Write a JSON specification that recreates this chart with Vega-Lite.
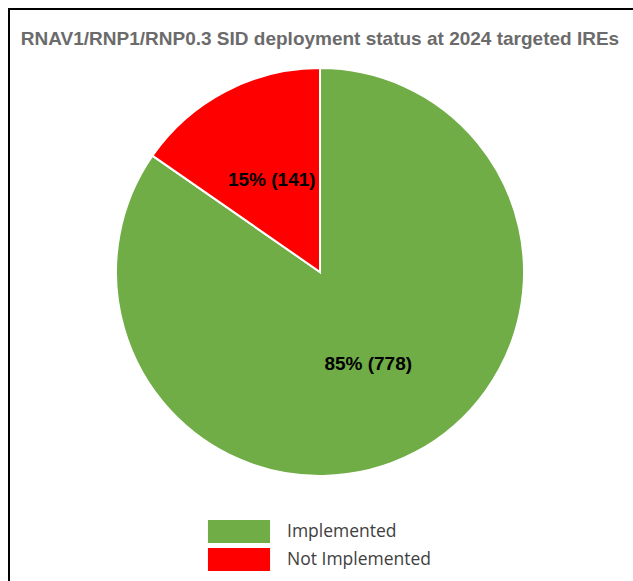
{
  "$schema": "https://vega.github.io/schema/vega-lite/v6.json",
  "autosize": {"type": "fit", "contains": "padding"},
  "width": 633,
  "height": 581,
  "padding": {"left": 9, "top": 9, "right": -8, "bottom": -8},
  "background": "white",
  "view": {"stroke": "black", "strokeWidth": 2},
  "title": {
    "text": "RNAV1/RNP1/RNP0.3 SID deployment status at 2024 targeted IREs",
    "font": "Liberation Sans",
    "fontSize": 19,
    "fontWeight": "bold",
    "color": "#6b6b6b",
    "anchor": "middle",
    "frame": "group",
    "baseline": "alphabetic",
    "offset": -55,
    "dx": -5
  },
  "data": {
    "values": [
      {"status": "Implemented", "count": 778, "label": "85% (778)"},
      {"status": "Not Implemented", "count": 141, "label": "15% (141)"}
    ]
  },
  "encoding": {
    "theta": {"field": "count", "type": "quantitative", "stack": true},
    "order": {"field": "count", "type": "quantitative", "sort": "descending"}
  },
  "layer": [
    {
      "mark": {"type": "arc", "outerRadius": 204, "stroke": "white", "strokeWidth": 2, "xOffset": -5, "yOffset": -27},
      "encoding": {
        "color": {
          "field": "status",
          "type": "nominal",
          "scale": {"domain": ["Implemented", "Not Implemented"], "range": ["#70AD47", "#FF0000"]},
          "legend": {
            "title": null,
            "orient": "none",
            "legendX": 218.5,
            "legendY": 511,
            "padding": 0,
            "symbolType": "M-2.7,-1H2.7V1H-2.7Z",
            "symbolSize": 529,
            "symbolStrokeWidth": 0,
            "symbolOpacity": 1,
            "labelOffset": 36.5,
            "rowPadding": 5,
            "labelFont": "Open Sans",
            "labelFontSize": 17.5,
            "labelColor": "#404040"
          }
        }
      }
    },
    {
      "mark": {"type": "text", "radius": 104, "font": "Liberation Sans", "fontSize": 19, "fontWeight": "bold", "color": "black", "xOffset": -5, "yOffset": -27},
      "encoding": {
        "text": {"field": "label", "type": "nominal"}
      }
    }
  ]
}
